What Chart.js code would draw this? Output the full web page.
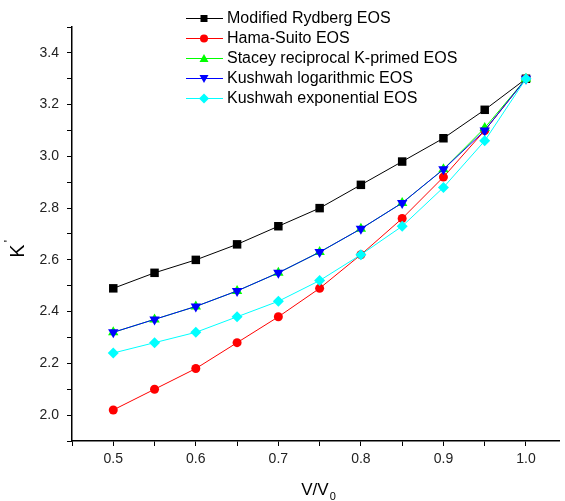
<!DOCTYPE html>
<html>
<head>
<meta charset="utf-8">
<script src="https://cdn.jsdelivr.net/npm/chart.js@4.4.1/dist/chart.umd.min.js"></script>
<style>
  html, body { margin: 0; padding: 0; background: #fff; }
  #wrap { width: 565px; height: 501px; }
</style>
</head>
<body>
<div id="wrap"><canvas id="myChart" width="565" height="501"></canvas></div>
<script>
// V/V0 values and K' for each EOS
var volumeRatio = [0.5, 0.55, 0.6, 0.65, 0.7, 0.75, 0.8, 0.85, 0.9, 0.95, 1.0];
var rydberg     = [2.49, 2.55, 2.60, 2.66, 2.73, 2.80, 2.89, 2.98, 3.07, 3.18, 3.30];
var hamaSuito   = [2.02, 2.10, 2.18, 2.28, 2.38, 2.49, 2.62, 2.76, 2.92, 3.10, 3.30];
var stacey      = [2.32, 2.37, 2.42, 2.48, 2.55, 2.63, 2.72, 2.82, 2.95, 3.11, 3.30];
var kushwahLog  = [2.32, 2.37, 2.42, 2.48, 2.55, 2.63, 2.72, 2.82, 2.95, 3.10, 3.30];
var kushwahExp  = [2.24, 2.28, 2.32, 2.38, 2.44, 2.52, 2.62, 2.73, 2.88, 3.06, 3.30];

var seriesNames = ["Modified Rydberg EOS", "Hama-Suito EOS", "Stacey reciprocal K-primed EOS",
                   "Kushwah logarithmic EOS", "Kushwah exponential EOS"];

var xTickValues = [0.45, 0.5, 0.55, 0.6, 0.65, 0.7, 0.75, 0.8, 0.85, 0.9, 0.95, 1.0];
var yTickValues = [1.9, 2.0, 2.1, 2.2, 2.3, 2.4, 2.5, 2.6, 2.7, 2.8, 2.9, 3.0, 3.1, 3.2, 3.3, 3.4, 3.5];

var FONT = "'Liberation Sans', Arial, sans-serif";

function toPoints(ys) {
  var pts = [];
  for (var i = 0; i < volumeRatio.length; i++) {
    pts.push({ x: volumeRatio[i], y: ys[i] });
  }
  return pts;
}

function makeDataset(label, ys, color, style, radius, rotation, order) {
  return {
    label: label,
    data: toPoints(ys),
    borderColor: color,
    backgroundColor: color,
    borderWidth: 1,
    pointStyle: style,
    pointRadius: radius,
    pointRotation: rotation,
    pointBorderWidth: 0,
    pointBackgroundColor: color,
    pointBorderColor: color,
    tension: 0,
    fill: false,
    order: order
  };
}

// draws a marker shape, used for the legend
function drawMarker(ctx, style, color, x, y) {
  ctx.save();
  ctx.fillStyle = color;
  ctx.beginPath();
  if (style === "rect") {
    ctx.rect(x - 3.5, y - 3.5, 7, 7);
  } else if (style === "circle") {
    ctx.arc(x, y, 4, 0, Math.PI * 2);
  } else if (style === "up") {
    ctx.moveTo(x, y - 4.5); ctx.lineTo(x + 4.5, y + 3.5); ctx.lineTo(x - 4.5, y + 3.5);
  } else if (style === "down") {
    ctx.moveTo(x, y + 4.5); ctx.lineTo(x + 4.5, y - 3.5); ctx.lineTo(x - 4.5, y - 3.5);
  } else {
    ctx.moveTo(x, y - 5); ctx.lineTo(x + 5, y); ctx.lineTo(x, y + 5); ctx.lineTo(x - 5, y);
  }
  ctx.closePath();
  ctx.fill();
  ctx.restore();
}

var legendStyles = ["rect", "circle", "up", "down", "diamond"];
var legendColors = ["#000000", "#ff0000", "#00ff00", "#0000ff", "#00ffff"];

var legendAndTitles = {
  id: "legendAndTitles",
  afterDraw: function(chart) {
    var ctx = chart.ctx;
    ctx.save();
    // legend
    ctx.font = "16px " + FONT;
    ctx.textBaseline = "middle";
    ctx.textAlign = "left";
    for (var i = 0; i < seriesNames.length; i++) {
      var y = 18 + i * 20;
      ctx.strokeStyle = legendColors[i];
      ctx.lineWidth = 1;
      ctx.beginPath();
      ctx.moveTo(186, y + 0.5);
      ctx.lineTo(223, y + 0.5);
      ctx.stroke();
      drawMarker(ctx, legendStyles[i], legendColors[i], 204, y + 0.5);
      ctx.fillStyle = "#000";
      ctx.fillText(seriesNames[i], 227, y + 1);
    }

    // x axis title V/V0
    ctx.fillStyle = "#000";
    ctx.textBaseline = "alphabetic";
    ctx.font = "17px " + FONT;
    var main = "V/V";
    var w1 = ctx.measureText(main).width;
    ctx.font = "11px " + FONT;
    var w2 = ctx.measureText("0").width;
    var cx = 318 - (w1 + w2) / 2;
    ctx.font = "17px " + FONT;
    ctx.fillText(main, cx, 495);
    ctx.font = "11px " + FONT;
    ctx.fillText("0", cx + w1 + 1, 500);

    // y axis title K'
    ctx.translate(24, 249);
    ctx.rotate(-Math.PI / 2);
    ctx.font = "20px " + FONT;
    var wk = ctx.measureText("K").width;
    ctx.textAlign = "left";
    ctx.fillText("K", -wk / 2 - 2, 0);
    ctx.font = "12px " + FONT;
    ctx.fillText("'", wk / 2, -11);
    ctx.restore();
  }
};

var ctx = document.getElementById("myChart").getContext("2d");
var chart = new Chart(ctx, {
  type: "line",
  data: {
    datasets: [
      makeDataset(seriesNames[0], rydberg, "#000000", "rect", 6, 0, 4),
      makeDataset(seriesNames[1], hamaSuito, "#ff0000", "circle", 4.5, 0, 3),
      makeDataset(seriesNames[2], stacey, "#00ff00", "triangle", 6, 0, 2),
      makeDataset(seriesNames[3], kushwahLog, "#0000ff", "triangle", 6, 180, 1),
      makeDataset(seriesNames[4], kushwahExp, "#00ffff", "rectRot", 5.5, 0, 0)
    ]
  },
  options: {
    responsive: false,
    animation: false,
    devicePixelRatio: 1,
    layout: { padding: { top: 27, right: 0, bottom: 0, left: 0 } },
    plugins: {
      legend: { display: false },
      tooltip: { enabled: false }
    },
    scales: {
      x: {
        type: "linear",
        min: 0.45,
        max: 1.04,
        afterBuildTicks: function(scale) {
          scale.ticks = xTickValues.map(function(v) { return { value: v }; });
        },
        afterFit: function(scale) { scale.height = 60; },
        ticks: {
          autoSkip: false,
          maxRotation: 0,
          padding: 5,
          color: "#222",
          font: { family: FONT, size: 14 },
          callback: function(v) {
            var t = Math.round(v * 100);
            return (t % 10 === 0 && v > 0.46) ? v.toFixed(1) : "";
          }
        },
        grid: { drawOnChartArea: false, drawTicks: true, tickLength: 5, color: "#000", lineWidth: 1 },
        border: { color: "#000", width: 1.5 }
      },
      y: {
        min: 1.9,
        max: 3.5,
        afterBuildTicks: function(scale) {
          scale.ticks = yTickValues.map(function(v) { return { value: v }; });
        },
        afterFit: function(scale) { scale.width = 72; },
        ticks: {
          autoSkip: false,
          padding: 8,
          color: "#222",
          font: { family: FONT, size: 14 },
          callback: function(v) {
            var t = Math.round(v * 10);
            return (t % 2 === 0 && t >= 20 && t <= 34) ? v.toFixed(1) : "";
          }
        },
        grid: { drawOnChartArea: false, drawTicks: true, tickLength: 5, color: "#000", lineWidth: 1 },
        border: { color: "#000", width: 1.5 }
      }
    }
  },
  plugins: [legendAndTitles]
});
</script>
</body>
</html>
